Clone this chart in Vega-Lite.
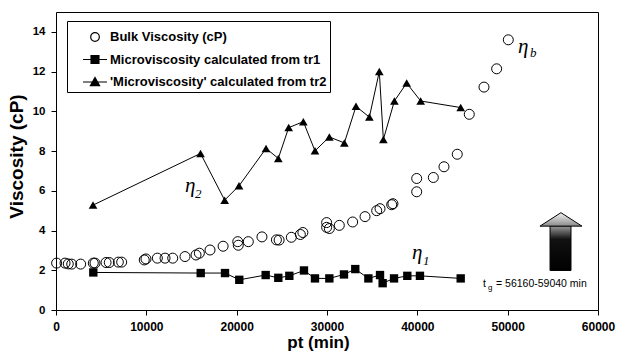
{
  "$schema": "https://vega.github.io/schema/vega-lite/v6.json",
  "width": 542,
  "height": 298,
  "autosize": {"type": "none"},
  "padding": {"left": 56, "top": 12, "right": 19, "bottom": 47},
  "background": "white",
  "config": {"view": {"stroke": "black", "strokeWidth": 1}, "font": "Liberation Sans"},
  "datasets": {
    "bulk": [
      {"pt": 70, "v": 2.36}, {"pt": 1000, "v": 2.36}, {"pt": 1360, "v": 2.32}, {"pt": 1740, "v": 2.31},
      {"pt": 2730, "v": 2.31}, {"pt": 4130, "v": 2.36}, {"pt": 4320, "v": 2.36}, {"pt": 5540, "v": 2.39},
      {"pt": 5900, "v": 2.39}, {"pt": 6900, "v": 2.41}, {"pt": 7270, "v": 2.41}, {"pt": 9770, "v": 2.52},
      {"pt": 9960, "v": 2.57}, {"pt": 11220, "v": 2.61}, {"pt": 12070, "v": 2.61}, {"pt": 12920, "v": 2.61},
      {"pt": 14280, "v": 2.69}, {"pt": 15500, "v": 2.77}, {"pt": 15870, "v": 2.86}, {"pt": 17050, "v": 3.02},
      {"pt": 18500, "v": 3.21}, {"pt": 20120, "v": 3.44}, {"pt": 20180, "v": 3.26}, {"pt": 21290, "v": 3.44},
      {"pt": 22800, "v": 3.68}, {"pt": 24400, "v": 3.53}, {"pt": 24700, "v": 3.52}, {"pt": 26050, "v": 3.66},
      {"pt": 27050, "v": 3.8}, {"pt": 27330, "v": 3.9}, {"pt": 29960, "v": 4.4}, {"pt": 29960, "v": 4.16},
      {"pt": 30260, "v": 4.1}, {"pt": 31360, "v": 4.26}, {"pt": 32840, "v": 4.43}, {"pt": 34210, "v": 4.7},
      {"pt": 35500, "v": 5.0}, {"pt": 35870, "v": 5.1}, {"pt": 37160, "v": 5.3}, {"pt": 37300, "v": 5.35},
      {"pt": 39930, "v": 6.62}, {"pt": 39930, "v": 5.95}, {"pt": 41770, "v": 6.67}, {"pt": 42950, "v": 7.21},
      {"pt": 44420, "v": 7.84}, {"pt": 45750, "v": 9.85}, {"pt": 47380, "v": 11.22}, {"pt": 48780, "v": 12.14},
      {"pt": 50070, "v": 13.6}
    ],
    "tr1": [
      {"pt": 4130, "v": 1.89}, {"pt": 16020, "v": 1.86}, {"pt": 18710, "v": 1.86}, {"pt": 20290, "v": 1.52},
      {"pt": 23210, "v": 1.76}, {"pt": 24610, "v": 1.62}, {"pt": 25830, "v": 1.72}, {"pt": 27450, "v": 1.99},
      {"pt": 28670, "v": 1.59}, {"pt": 30260, "v": 1.59}, {"pt": 31880, "v": 1.79}, {"pt": 33130, "v": 2.06},
      {"pt": 34580, "v": 1.59}, {"pt": 35870, "v": 1.76}, {"pt": 36160, "v": 1.35}, {"pt": 37420, "v": 1.59},
      {"pt": 38890, "v": 1.72}, {"pt": 40290, "v": 1.72}, {"pt": 44800, "v": 1.59}
    ],
    "tr2": [
      {"pt": 4100, "v": 5.28}, {"pt": 16000, "v": 7.88}, {"pt": 18670, "v": 5.53}, {"pt": 20260, "v": 6.25},
      {"pt": 23250, "v": 8.13}, {"pt": 24610, "v": 7.63}, {"pt": 25760, "v": 9.18}, {"pt": 27380, "v": 9.48},
      {"pt": 28670, "v": 8.01}, {"pt": 30260, "v": 8.71}, {"pt": 31920, "v": 8.41}, {"pt": 33210, "v": 10.25},
      {"pt": 34690, "v": 9.71}, {"pt": 35790, "v": 12.0}, {"pt": 36240, "v": 8.58}, {"pt": 37460, "v": 10.52},
      {"pt": 38820, "v": 11.42}, {"pt": 40370, "v": 10.52}, {"pt": 44800, "v": 10.19}
    ]
  },
  "encoding": {
    "x": {
      "field": "pt", "type": "quantitative",
      "scale": {"domain": [0, 60000], "nice": false},
      "axis": {
        "title": "pt (min)", "values": [0, 10000, 20000, 30000, 40000, 50000, 60000], "format": "d",
        "grid": false, "domain": false, "tickColor": "black", "tickSize": 5, "labelPadding": 6,
        "labelFont": "Liberation Sans", "labelFontWeight": "bold", "labelFontSize": 12, "labelColor": "black",
        "labelFlush": false, "labelOverlap": false,
        "titleFont": "Liberation Sans", "titleFontWeight": "bold", "titleFontSize": 17, "titleColor": "black",
        "titlePadding": 2, "titleX": 262, "titleAnchor": null, "titleAlign": "center"
      }
    },
    "y": {
      "field": "v", "type": "quantitative",
      "scale": {"domain": [0, 15], "nice": false},
      "axis": {
        "title": "Viscosity (cP)", "values": [0, 2, 4, 6, 8, 10, 12, 14],
        "grid": false, "domain": false, "tickColor": "black", "tickSize": 5, "labelPadding": 6,
        "labelFont": "Liberation Sans", "labelFontWeight": "bold", "labelFontSize": 11.5, "labelColor": "black",
        "labelFlush": false, "labelOverlap": false,
        "titleFont": "Liberation Sans", "titleFontWeight": "bold", "titleFontSize": 19, "titleColor": "black",
        "titlePadding": 6, "titleY": 144, "titleAlign": "center"
      }
    }
  },
  "layer": [
    {"data": {"name": "tr1"}, "mark": {"type": "line", "color": "black", "strokeWidth": 1}},
    {"data": {"name": "tr2"}, "mark": {"type": "line", "color": "black", "strokeWidth": 1}},
    {"data": {"name": "bulk"}, "mark": {"type": "point", "shape": "circle", "size": 100, "filled": false, "stroke": "black", "strokeWidth": 1, "opacity": 1}},
    {"data": {"name": "tr1"}, "mark": {"type": "point", "shape": "square", "size": 70, "filled": true, "color": "black", "opacity": 1}},
    {"data": {"name": "tr2"}, "mark": {"type": "point", "shape": "triangle-up", "size": 75, "filled": true, "color": "black", "opacity": 1}},
    {
      "data": {"values": [{"series": "Bulk Viscosity (cP)", "pt": 0, "v": 0}]},
      "transform": [{"filter": "false"}],
      "mark": {"type": "point", "filled": true, "strokeWidth": 1.2, "size": 576},
      "encoding": {
        "shape": {
          "field": "series", "type": "nominal",
          "scale": {
            "domain": ["Bulk Viscosity (cP)", "Microviscosity calculated from tr1", "'Microviscosity' calculated from tr2"],
            "range": [
              "M1.36,0A0.36,0.36,0,1,1,0.64,0A0.36,0.36,0,1,1,1.36,0Z",
              "M0,0H2M0.67,-0.33H1.33V0.33H0.67Z",
              "M0,0H2M1,-0.38L1.38,0.3L0.62,0.3Z"
            ]
          },
          "legend": {
            "title": null, "orient": "none", "legendX": 11, "legendY": 9,
            "strokeColor": "black", "fillColor": "white", "padding": 3, "rowPadding": 2.5,
            "labelFont": "Liberation Sans", "labelFontWeight": "bold", "labelFontSize": 13, "labelColor": "black",
            "labelOffset": 14, "symbolSize": 576, "symbolStrokeWidth": 1.2, "symbolOpacity": 1, "labelLimit": 400
          }
        },
        "fill": {
          "field": "series", "type": "nominal",
          "scale": {
            "domain": ["Bulk Viscosity (cP)", "Microviscosity calculated from tr1", "'Microviscosity' calculated from tr2"],
            "range": ["white", "black", "black"]
          },
          "legend": {
            "title": null, "orient": "none", "legendX": 11, "legendY": 9,
            "strokeColor": "black", "fillColor": "white", "padding": 3, "rowPadding": 2.5,
            "labelFont": "Liberation Sans", "labelFontWeight": "bold", "labelFontSize": 13, "labelColor": "black",
            "labelOffset": 14, "symbolSize": 576, "symbolStrokeWidth": 1.2, "symbolOpacity": 1, "labelLimit": 400
          }
        },
        "stroke": {
          "field": "series", "type": "nominal",
          "scale": {
            "domain": ["Bulk Viscosity (cP)", "Microviscosity calculated from tr1", "'Microviscosity' calculated from tr2"],
            "range": ["black", "black", "black"]
          },
          "legend": {
            "title": null, "orient": "none", "legendX": 11, "legendY": 9,
            "strokeColor": "black", "fillColor": "white", "padding": 3, "rowPadding": 2.5,
            "labelFont": "Liberation Sans", "labelFontWeight": "bold", "labelFontSize": 13, "labelColor": "black",
            "labelOffset": 14, "symbolSize": 576, "symbolStrokeWidth": 1.2, "symbolOpacity": 1, "labelLimit": 400
          }
        }
      }
    },
    {
      "data": {"values": [{"pt": 54690, "pt2": 57010, "v": 1.99, "v2": 4.23}]},
      "mark": {
        "type": "rect", "stroke": "black", "strokeWidth": 1,
        "fill": {"gradient": "linear", "x1": 0, "y1": 0, "x2": 0, "y2": 1,
          "stops": [{"offset": 0, "color": "#9a9a9a"}, {"offset": 0.3, "color": "#111111"}, {"offset": 1, "color": "#000000"}]}
      },
      "encoding": {"x2": {"field": "pt2"}, "y2": {"field": "v2"}}
    },
    {
      "data": {"values": [{"pt": 55900, "v": 4.56}]},
      "mark": {
        "type": "point", "shape": "M-1,0.32L0,-0.32L1,0.32Z", "size": 1764, "filled": true, "opacity": 1,
        "stroke": "black", "strokeWidth": 1,
        "fill": {"gradient": "linear", "x1": 0, "y1": 0, "x2": 0, "y2": 1,
          "stops": [{"offset": 0, "color": "#f4f4f4"}, {"offset": 1, "color": "#8a8a8a"}]}
      }
    },
    {
      "data": {"values": [
        {"pt": 14280, "v": 5.94, "txt": "η"},
        {"pt": 51140, "v": 12.96, "txt": "η"},
        {"pt": 39410, "v": 2.57, "txt": "η"}
      ]},
      "mark": {"type": "text", "align": "left", "baseline": "alphabetic", "font": "Liberation Serif", "fontStyle": "italic", "fontSize": 21, "color": "black"},
      "encoding": {"text": {"field": "txt"}}
    },
    {
      "data": {"values": [
        {"pt": 15390, "v": 5.64, "txt": "2"},
        {"pt": 52470, "v": 12.71, "txt": "b"},
        {"pt": 40630, "v": 2.27, "txt": "1"}
      ]},
      "mark": {"type": "text", "align": "left", "baseline": "alphabetic", "font": "Liberation Serif", "fontStyle": "italic", "fontSize": 13, "color": "black"},
      "encoding": {"text": {"field": "txt"}}
    },
    {
      "data": {"values": [
        {"pt": 47270, "v": 1.17, "txt": "t"},
        {"pt": 48710, "v": 1.17, "txt": "= 56160-59040 min"}
      ]},
      "mark": {"type": "text", "align": "left", "baseline": "alphabetic", "font": "Liberation Sans", "fontSize": 10.5, "color": "black"},
      "encoding": {"text": {"field": "txt"}}
    },
    {
      "data": {"values": [{"pt": 47820, "v": 1.0, "txt": "g"}]},
      "mark": {"type": "text", "align": "left", "baseline": "alphabetic", "font": "Liberation Sans", "fontSize": 8, "color": "black"},
      "encoding": {"text": {"field": "txt"}}
    }
  ]
}
